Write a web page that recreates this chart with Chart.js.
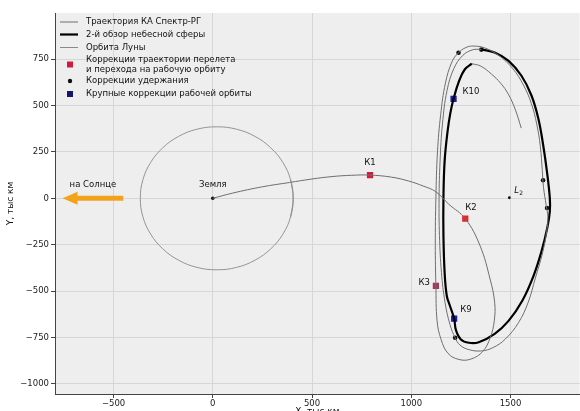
<!DOCTYPE html>
<html><head><meta charset="utf-8">
<script src="https://cdn.jsdelivr.net/npm/chart.js@4.4.1/dist/chart.umd.min.js"></script>
<style>
html,body{margin:0;padding:0;background:#fff;overflow:hidden;width:580px;height:411px}
#wrap{position:relative;width:580px;height:411px;overflow:hidden}
</style></head>
<body><div id="wrap"><canvas id="c" width="584" height="417"></canvas></div>
<script>
// ---------- data (thousand km) ----------
const xTicks = [-500, 0, 500, 1000, 1500];
const yTicks = [-1000, -750, -500, -250, 0, 250, 500, 750];

const moonOrbit = [[392,-100],[405,0],[392,100],[353,193],[292,272],[213,333],[120,372],[20,385],[-80,372],[-173,333],[-252,272],[-313,193],[-352,100],[-365,0],[-352,-100],[-313,-193],[-252,-272],[-173,-333],[-80,-372],[20,-385],[120,-372],[213,-333],[292,-272],[353,-193],[392,-100],[405,0],[392,100]];

const trajectoryPath = [[0,0],[100,28],[250,62],[386,85],[500,104],[601,117],[700,124],[792,125],[900,114],[987,93],[1060,66],[1123,36],[1188,-31],[1273,-111],[1347,-257],[1397,-435],[1420,-560],[1418,-660],[1398,-750],[1360,-825],[1300,-866],[1240,-868],[1185,-835],[1150,-760],[1130,-660],[1124,-472],[1121,-250],[1124,0],[1132,250],[1148,450],[1172,620],[1205,735],[1238,784],[1275,812],[1313,820],[1370,810],[1440,770],[1510,700],[1565,610],[1605,510],[1632,400],[1650,280],[1660,150],[1666,60],[1680,-40],[1688,-100],[1682,-180],[1660,-300],[1625,-430],[1589,-560],[1540,-670],[1474,-758],[1410,-805],[1353,-822],[1290,-815],[1245,-790],[1221,-751],[1195,-680],[1170,-560],[1152,-400],[1142,-200],[1140,0],[1145,200],[1157,400],[1180,580],[1215,700],[1260,770],[1310,800],[1353,802]];

const surveyPath = [[1353,802],[1420,785],[1490,740],[1555,660],[1605,555],[1640,430],[1664,290],[1684,140],[1698,0],[1698,-70],[1685,-160],[1655,-290],[1615,-420],[1560,-550],[1490,-660],[1420,-730],[1340,-775],[1290,-778],[1250,-760],[1225,-710],[1216,-648],[1195,-580],[1179,-526],[1168,-400],[1162,-200],[1162,0],[1168,200],[1183,362],[1197,460],[1213,536],[1240,630],[1270,695],[1305,725]];

const trajectoryTail = [[1305,725],[1350,712],[1404,669],[1450,620],[1489,561],[1525,475],[1554,378]];

const transferCorrections = [[792,125],[1272,-110],[1124,-472]];
const transferLabels = ['К1','К2','К3'];
const holdCorrections = [[1238,784],[1353,801],[1664,97],[1684,-52],[1221,-751]];
const majorCorrections = [[1216,-648],[1213,536]];
const majorLabels = ['К9','К10'];
const earthPoint = [[0,0]];
const l2Point = [[1494,3]];
const sunArrow = [[-451,0],[-757,0]];

const seriesNames = ['Траектория КА Спектр-РГ','2-й обзор небесной сферы','Орбита Луны',
  ['Коррекции траектории перелета','и перехода на рабочую орбиту'],'Коррекции удержания','Крупные коррекции рабочей орбиты'];

// ---------- styling ----------
const FONT = '"DejaVu Sans", "Liberation Sans", sans-serif';
const C_TRAJ = '#6e6e6e', C_MOON = '#8a8a8a', C_SURVEY = '#000000';
const C_TRANS = ['#d01c3c','#e3242b','#a3365a'];
const C_HOLD = '#111111', C_MAJOR = '#1b1bb0';
const toXY = a => a.map(p => ({x:p[0], y:p[1]}));
const fmt = v => (v < 0 ? '\u2212' : '') + Math.abs(v);

// label offsets in px [dx, dy, align]
const transferLabelStyle = [[0,-12,'center'],[0,-11,'left'],[-6,-3,'right']];
const majorLabelStyle = [[6,-9,'left'],[9,-7,'left']];

const overlay = {
  id: 'overlay',
  beforeDraw(chart){
    const {ctx, chartArea:a} = chart;
    ctx.save(); ctx.fillStyle = '#eeeeee';
    ctx.fillRect(a.left, a.top, a.right-a.left, a.bottom-a.top); ctx.restore();
  },
  afterDatasetsDraw(chart){
    const {ctx, scales:{x, y}} = chart;
    ctx.save();
    const xa = x.getPixelForValue(sunArrow[0][0]), xb = x.getPixelForValue(sunArrow[1][0]);
    const ya = y.getPixelForValue(sunArrow[0][1]);
    ctx.strokeStyle = '#f2a31b'; ctx.fillStyle = '#f2a31b'; ctx.lineWidth = 5;
    ctx.beginPath(); ctx.moveTo(xa, ya); ctx.lineTo(xb+12, ya); ctx.stroke();
    ctx.beginPath(); ctx.moveTo(xb, ya); ctx.lineTo(xb+15, ya-6.5); ctx.lineTo(xb+15, ya+6.5); ctx.closePath(); ctx.fill();
    ctx.fillStyle = '#111'; ctx.font = '8.5px ' + FONT; ctx.textBaseline = 'middle';
    ctx.textAlign = 'center';
    ctx.fillText('на Солнце', (xa+xb)/2, ya-14);
    ctx.fillText('Земля', x.getPixelForValue(earthPoint[0][0]), y.getPixelForValue(earthPoint[0][1]) - 14);
    transferCorrections.forEach((p,i) => {
      const s = transferLabelStyle[i];
      ctx.textAlign = s[2];
      ctx.fillText(transferLabels[i], x.getPixelForValue(p[0]) + s[0], y.getPixelForValue(p[1]) + s[1]);
    });
    majorCorrections.forEach((p,i) => {
      const s = majorLabelStyle[i];
      ctx.textAlign = s[2];
      ctx.fillText(majorLabels[i], x.getPixelForValue(p[0]) + s[0], y.getPixelForValue(p[1]) + s[1]);
    });
    const lx = x.getPixelForValue(l2Point[0][0]), ly = y.getPixelForValue(l2Point[0][1]);
    ctx.textAlign = 'left'; ctx.font = 'italic 8.5px ' + FONT;
    ctx.fillText('L', lx+5, ly-7);
    ctx.font = '6px ' + FONT; ctx.fillText('2', lx+10, ly-4);
    ctx.restore();
  },
  afterDraw(chart){
    const {ctx, chartArea:a} = chart;
    ctx.save();
    const x0 = a.left + 5, x1 = a.left + 23, tx = a.left + 31, mx = a.left + 15;
    const rowsY = [9, 21.5, 34.5, 46.5, 68, 81];
    ctx.font = '8.5px ' + FONT; ctx.fillStyle = '#111'; ctx.textBaseline = 'middle'; ctx.textAlign = 'left';
    const lines = [[C_TRAJ,1],[C_SURVEY,2.2],[C_MOON,1]];
    lines.forEach((l,i) => {
      const yy = a.top + rowsY[i];
      ctx.strokeStyle = l[0]; ctx.lineWidth = l[1];
      ctx.beginPath(); ctx.moveTo(x0, yy); ctx.lineTo(x1, yy); ctx.stroke();
      ctx.fillText(seriesNames[i], tx, yy);
    });
    let yy = a.top + rowsY[3];
    ctx.fillText(seriesNames[3][0], tx, yy); ctx.fillText(seriesNames[3][1], tx, yy + 10);
    ctx.fillStyle = C_TRANS[0]; ctx.fillRect(mx-3, yy+5-3, 6, 6);
    yy = a.top + rowsY[4];
    ctx.fillStyle = C_HOLD; ctx.beginPath(); ctx.arc(mx, yy, 2.2, 0, Math.PI*2); ctx.fill();
    ctx.fillStyle = '#111'; ctx.fillText(seriesNames[4], tx, yy);
    yy = a.top + rowsY[5];
    ctx.fillStyle = '#15156e'; ctx.fillRect(mx-3, yy-3, 6, 6);
    ctx.fillStyle = '#111'; ctx.fillText(seriesNames[5], tx, yy);
    ctx.restore();
  }
};

const lineDs = (label, data, color, width) => ({
  label, data: toXY(data), showLine: true, borderColor: color, borderWidth: width,
  pointRadius: 0, pointHoverRadius: 0, tension: 0.4, fill: false
});

new Chart(document.getElementById('c'), {
  type: 'scatter',
  data: { datasets: [
    lineDs(seriesNames[2], moonOrbit, C_MOON, 0.9),
    lineDs(seriesNames[0], trajectoryPath, C_TRAJ, 1),
    lineDs(seriesNames[0], trajectoryTail, C_TRAJ, 1),
    lineDs(seriesNames[1], surveyPath, C_SURVEY, 2.2),
    { label: 'Земля', data: toXY(earthPoint), pointRadius: 1.8, backgroundColor: '#111', borderWidth: 0 },
    { label: 'L2', data: toXY(l2Point), pointRadius: 1.4, backgroundColor: '#111', borderWidth: 0 },
    { label: 'hold', data: toXY(holdCorrections), pointRadius: 2.3, backgroundColor: C_HOLD, borderWidth: 0 },
    { label: 'transfer', data: toXY(transferCorrections), pointStyle: 'rect', pointRadius: 4.4, backgroundColor: C_TRANS, borderWidth: 0 },
    { label: 'major', data: toXY(majorCorrections), pointStyle: 'rect', pointRadius: 4.4, backgroundColor: C_MAJOR, borderWidth: 0 }
  ]},
  options: {
    responsive: false, animation: false, devicePixelRatio: 1,
    layout: { padding: { top: 13, right: 0, left: 0, bottom: 0 } },
    plugins: { legend: { display: false }, tooltip: { enabled: false } },
    scales: {
      x: {
        type: 'linear', min: -795, max: 1848,
        afterBuildTicks: s => { s.ticks = xTicks.map(v => ({value: v})); },
        afterFit: s => { s.height = 23; },
        ticks: { font: { size: 8.5, family: FONT }, color: '#222', padding: 1, maxRotation: 0, callback: fmt },
        grid: { color: '#d6d6d6', lineWidth: 1, tickLength: 4, tickColor: '#444' },
        border: { display: true, color: '#444', width: 1 },
        title: { display: true, text: 'X, тыс км', font: { size: 9, family: FONT }, color: '#111', padding: { top: 0, bottom: 0 } }
      },
      y: {
        type: 'linear', min: -1054, max: 998,
        afterBuildTicks: s => { s.ticks = yTicks.map(v => ({value: v})); },
        afterFit: s => { s.width = 55; },
        ticks: { font: { size: 8.5, family: FONT }, color: '#222', padding: 2, callback: fmt },
        grid: { color: '#d6d6d6', lineWidth: 1, tickLength: 4, tickColor: '#444' },
        border: { display: true, color: '#444', width: 1 },
        title: { display: true, text: 'Y, тыс км', font: { size: 9, family: FONT }, color: '#111', padding: { top: 5, bottom: 0 } }
      }
    }
  },
  plugins: [overlay]
});
</script></body></html>
